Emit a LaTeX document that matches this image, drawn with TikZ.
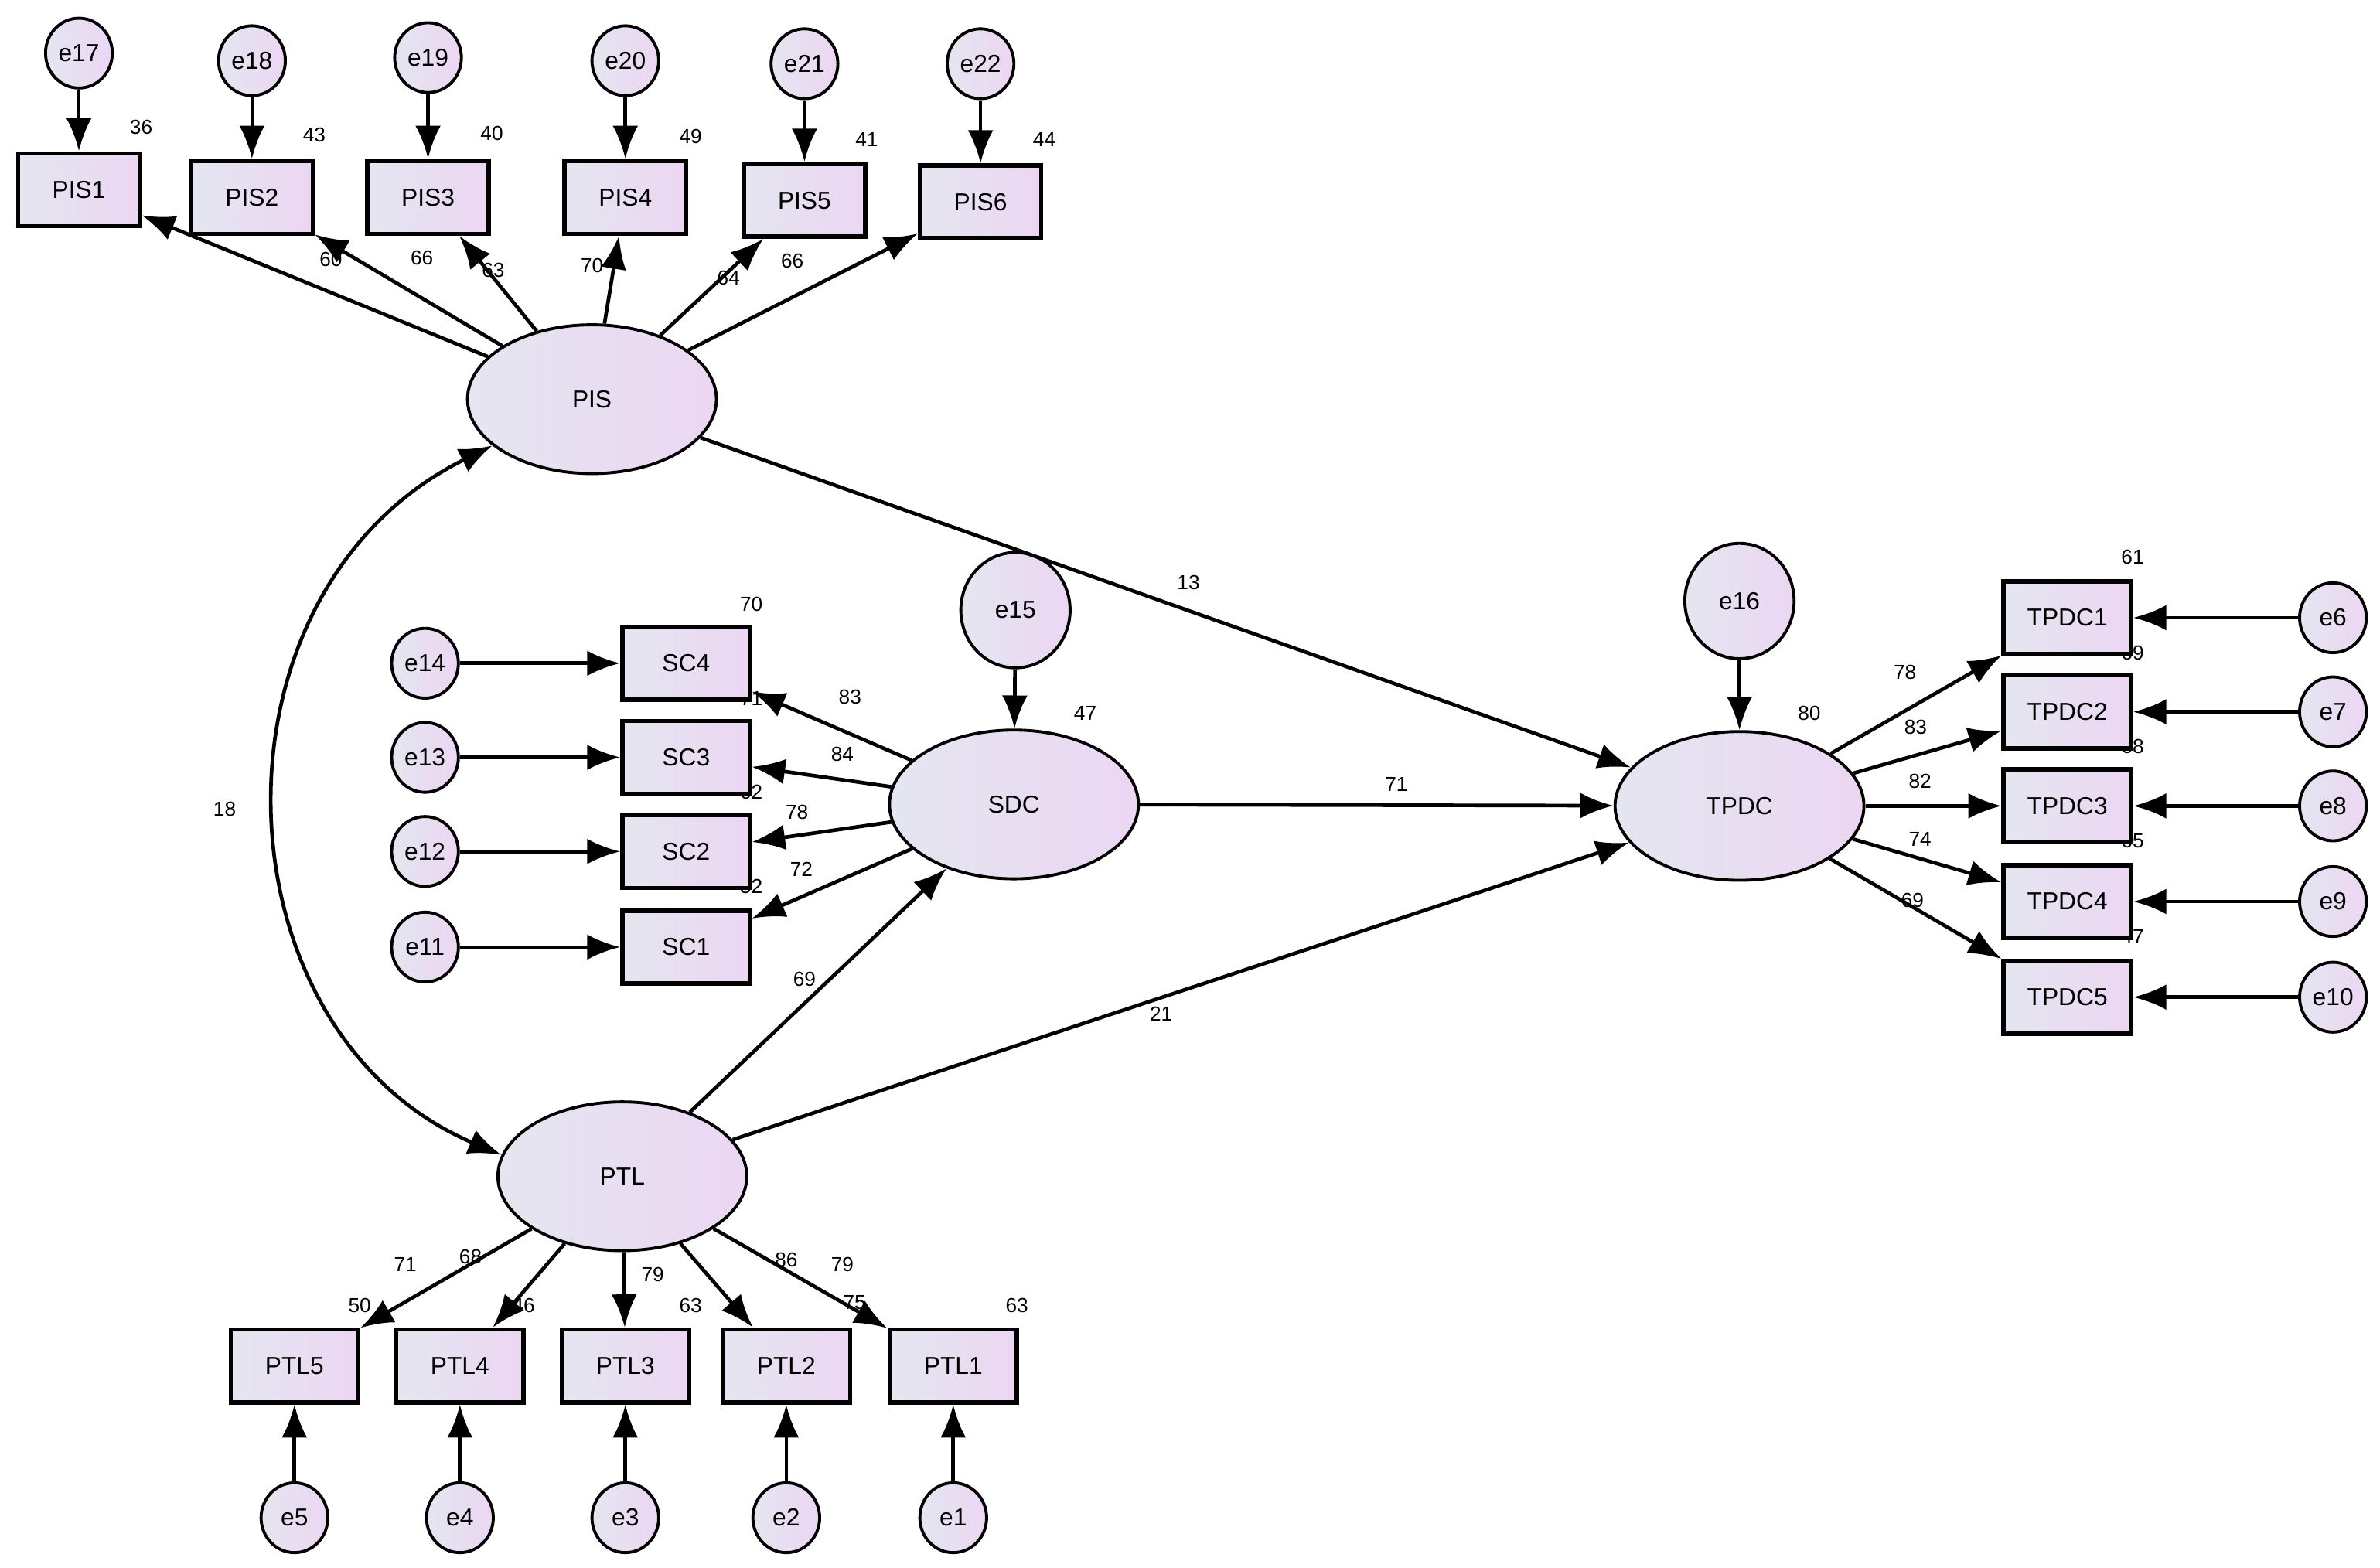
\documentclass[tikz,border=0pt]{standalone}
\usepackage{fontspec}
\setmainfont{Liberation Sans}
\usetikzlibrary{shapes.geometric,arrows.meta}
\def\u{1.4226pt}
\begin{document}
\begin{tikzpicture}[x=1.4226pt,y=-1.4226pt,
  lbl/.style={font=\fontsize{19}{22}\selectfont},
  sh/.style={left color={rgb,255:red,228;green,230;blue,240},right color={rgb,255:red,236;green,214;blue,242},draw=black,font=\fontsize{23}{26}\selectfont},
  err/.style={sh,ellipse,line width=2.8pt,inner sep=0pt,minimum width=44*\u,minimum height=46*\u},
  bigerr/.style={sh,ellipse,line width=2.8pt,inner sep=0pt,minimum width=72*\u,minimum height=76*\u},
  box/.style={sh,rectangle,line width=4pt,minimum width=80*\u,minimum height=48*\u},
  lat/.style={sh,ellipse,line width=2.8pt,minimum width=164*\u,minimum height=98*\u},
  arr/.style={line width=3.4pt,-{Latex[length=31pt,width=24pt]}},
  darr/.style={line width=3.4pt,{Latex[length=31pt,width=24pt]}-{Latex[length=31pt,width=24pt]}}]
\useasboundingbox (0,0) rectangle (1568,1033);
% labels (drawn first)
\foreach \t/\x/\y in {,36/93/84, ,43/207/89, ,40/324/88, ,49/455/90, ,41/571/92, ,44/688/92,
 ,60/218/171, ,66/278/170, ,63/325/178, ,70/390/175, ,64/480/183, ,66/522/172,
 ,70/495/398, ,71/495/460, ,62/495/522, ,52/495/584, ,47/715/470,
 ,83/560/459, ,84/555/497, ,78/525/535, ,72/528/573,
 ,80/1192/470, ,61/1405/367, ,69/1405/430, ,68/1405/492, ,65/1405/554, ,47/1405/617,
 ,78/1255/443, ,83/1262/479, ,82/1265/515, ,74/1265/553, ,69/1260/593,
 ,50/237/860, ,46/345/860, ,63/455/860, ,75/563/858, ,63/670/860,
 ,71/267/833, ,68/310/828, ,79/430/840, ,86/518/830, ,79/555/833,
 ,13/783/384, ,71/920/517, ,21/765/668, ,18/148/533, ,69/530/645}
 {\node[lbl] at (\x,\y) {\t};}
% latent
\node[lat] (PIS) at (390,263) {PIS};
\node[lat] (SDC) at (668,530) {SDC};
\node[lat] (TPDC) at (1146,531) {TPDC};
\node[lat] (PTL) at (410,775) {PTL};
% PIS indicators
\foreach \n/\bx/\by/\ex/\ey/\en in {PIS1/52/125/48/35/e17, PIS2/166/130/164/40/e18, PIS3/282/130/280/38/e19, PIS4/412/130/408/40/e20, PIS5/530/132/527/42/e21, PIS6/646/133/646/42/e22}
{\node[box] (\n) at (\bx,\by) {\n};
 \node[err] (\en) at (\bx,\ey) {\en};
 \draw[arr] (\en) -- (\n);
 \draw[arr] (PIS) -- (\n);}
% SDC indicators
\foreach \n/\y/\en in {SC4/437/e14, SC3/499/e13, SC2/561/e12, SC1/624/e11}
{\node[box,minimum width=84*\u] (\n) at (452,\y) {\n};
 \node[err] (\en) at (280,\y) {\en};
 \draw[arr] (\en) -- (\n);
 \draw[arr] (SDC) -- (\n);}
\node[bigerr] (e15) at (669,402) {e15};
\draw[arr] (e15) -- (SDC);
% TPDC indicators
\foreach \n/\y/\en in {TPDC1/407/e6, TPDC2/469/e7, TPDC3/531/e8, TPDC4/594/e9, TPDC5/657/e10}
{\node[box,minimum width=84*\u] (\n) at (1362,\y) {\n};
 \node[err] (\en) at (1537,\y) {\en};
 \draw[arr] (\en) -- (\n);
 \draw[arr] (TPDC) -- (\n);}
\node[bigerr] (e16) at (1146,396) {e16};
\draw[arr] (e16) -- (TPDC);
% PTL indicators
\foreach \n/\x/\en in {PTL5/194/e5, PTL4/303/e4, PTL3/412/e3, PTL2/518/e2, PTL1/628/e1}
{\node[box,minimum width=84*\u] (\n) at (\x,900) {\n};
 \node[err] (\en) at (\x,1000) {\en};
 \draw[arr] (\en) -- (\n);
 \draw[arr] (PTL) -- (\n);}
% structural
\draw[arr] (PIS) -- (TPDC);
\draw[arr] (SDC) -- (TPDC);
\draw[arr] (PTL) -- (TPDC);
\draw[arr] (PTL) -- (SDC);
\draw[darr] (PIS.205) .. controls (130,390) and (140,680) .. (PTL.170);
\end{tikzpicture}
\end{document}
